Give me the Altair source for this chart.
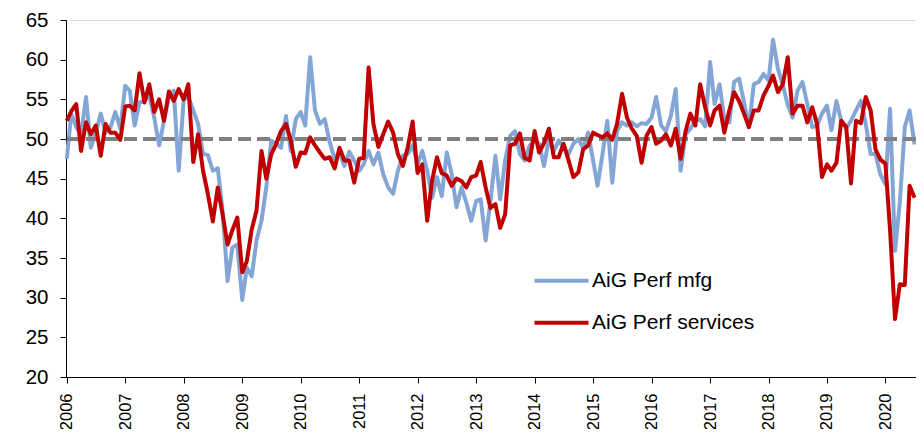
import altair as alt
import pandas as pd

# Monthly readings, Feb 2006 .. Aug 2020 (175 months)
start_month = "2006-02-01"
n_months = 175

mfg = [
    47.5, 53.2, 51.5, 50.5, 55.3, 48.9, 50.8, 53.2, 50.8, 51.5, 53.4, 51.3,
    56.7, 56.1, 51.7, 54.6, 54.8, 55.5, 52.7, 49.2, 52.3, 55.3, 56.1, 46.0,
    55.0, 55.3, 53.6, 51.9, 48.1, 48.0, 46.0, 46.3, 41.0, 32.1, 36.3, 36.7,
    29.7, 33.8, 32.7, 37.2, 39.7, 43.9, 49.8, 49.4, 48.9, 52.9, 48.5, 52.5,
    53.4, 51.7, 60.3, 53.6, 51.9, 52.5, 49.6, 47.5, 48.3, 46.6, 48.4, 47.3,
    46.0, 46.8, 48.5, 46.8, 48.3, 45.6, 43.9, 43.1, 46.0, 47.9, 48.1, 49.2,
    46.8, 48.5, 46.0, 42.6, 45.2, 42.8, 48.3, 45.6, 41.4, 43.9, 42.0, 39.7,
    42.2, 42.4, 37.2, 42.2, 47.9, 42.4, 47.3, 50.4, 51.0, 48.1, 47.3, 49.2,
    49.8, 49.4, 46.6, 50.0, 48.5, 49.8, 48.9, 48.1, 49.4, 50.0, 48.9, 50.8,
    47.3, 44.1, 48.1, 52.3, 44.5, 51.0, 52.1, 51.7, 52.1, 51.6, 52.0, 51.9,
    52.7, 55.3, 51.7, 51.0, 52.9, 56.3, 46.0, 50.6, 51.3, 52.3, 52.5, 51.6,
    59.7, 54.4, 56.9, 52.5, 52.1, 57.2, 57.6, 54.6, 51.5, 56.9, 57.2, 58.2,
    57.4, 62.5, 58.8, 56.8, 54.3, 52.7, 56.1, 57.2, 54.4, 51.5, 51.7, 53.2,
    54.2, 51.1, 54.8, 52.3, 51.3, 52.3, 53.6, 54.8, 51.9, 48.1, 48.1, 45.5,
    44.3, 53.8, 35.9, 42.0, 51.5, 53.6, 49.3,
]

services = [
    52.3, 53.5, 54.4, 48.5, 52.1, 50.6, 51.7, 47.9, 51.9, 50.8, 50.8, 49.9,
    54.1, 54.2, 53.6, 58.3, 54.6, 56.9, 53.4, 55.0, 52.3, 56.0, 54.8, 56.3,
    55.0, 56.9, 47.1, 50.6, 46.0, 43.1, 39.6, 43.9, 40.5, 36.7, 38.5, 40.1,
    33.2, 34.6, 38.6, 41.0, 48.5, 45.0, 48.1, 49.4, 51.0, 51.9, 49.8, 46.5,
    48.3, 48.2, 50.2, 49.2, 48.3, 47.5, 47.7, 46.3, 48.9, 47.3, 47.3, 44.5,
    47.5, 47.6, 59.0, 51.9, 49.0, 50.6, 52.2, 50.8, 48.1, 46.6, 48.9, 52.2,
    45.7, 46.8, 39.7, 44.7, 47.7, 45.7, 45.4, 44.1, 45.0, 44.7, 43.9, 45.2,
    45.4, 47.1, 43.9, 41.3, 41.8, 38.8, 40.5, 49.2, 49.4, 50.7, 47.6, 47.3,
    51.0, 48.3, 49.5, 51.3, 47.7, 47.7, 49.4, 47.3, 45.2, 45.8, 48.7, 49.2,
    50.8, 50.5, 50.2, 50.7, 49.9, 51.9, 55.7, 52.7, 51.3, 50.4, 47.0, 50.4,
    51.5, 49.4, 49.8, 50.6, 49.2, 51.3, 47.5, 51.0, 53.2, 51.7, 56.9, 54.0,
    51.7, 53.6, 54.2, 50.8, 53.6, 55.9, 54.8, 53.2, 51.5, 53.6, 53.6, 55.5,
    56.7, 58.0, 55.9, 56.9, 60.3, 53.2, 54.2, 54.2, 52.1, 54.0, 51.9, 45.2,
    46.8, 46.0, 47.0, 52.3, 51.5, 44.4, 52.3, 52.0, 55.3, 53.6, 48.7, 47.4,
    46.9, 38.5, 27.3, 31.7, 31.6, 44.1, 42.6,
]

series_names = ["AiG Perf mfg", "AiG Perf services"]
series_colors = ["#84A6D6", "#C00000"]
y_ticks = [20, 25, 30, 35, 40, 45, 50, 55, 60, 65]
tick_years = list(range(2006, 2021))
reference_level = 50

months = pd.date_range(start_month, periods=n_months, freq="MS")
df = pd.concat([
    pd.DataFrame({"date": months, "value": mfg, "series": series_names[0]}),
    pd.DataFrame({"date": months, "value": services, "series": series_names[1]}),
], ignore_index=True)
df_ref = pd.DataFrame({"value": [reference_level]})

FONT = "Liberation Sans"

x_enc = alt.X(
    "date:T",
    scale=alt.Scale(domain=[alt.DateTime(year=2006, month=1, date=27),
                            alt.DateTime(year=2020, month=8, date=10)]),
    axis=alt.Axis(
        title=None, format="%Y", labelAngle=-90, labelFontSize=16.5,
        values=[alt.DateTime(year=y, month=2, date=1) for y in tick_years],
        tickSize=6, labelPadding=10, labelFlush=False, labelOverlap=False,
        grid=False, domainColor="black", tickColor="black",
        labelColor="black", labelFont=FONT,
    ),
)
y_axis = alt.Axis(
    title=None, values=y_ticks, tickCount=10, tickSize=6, labelPadding=12,
    labelFontSize=20.5, labelFlush=False, labelOverlap=False,
    labelBound=False, grid=False,
    domainColor="black", tickColor="black", labelColor="black",
    labelFont=FONT,
)
y_scale = alt.Scale(domain=[20, 65], nice=False, zero=False)
y_enc = alt.Y("value:Q", scale=y_scale, axis=y_axis)

color_enc = alt.Color(
    "series:N",
    scale=alt.Scale(domain=series_names, range=series_colors),
    legend=alt.Legend(
        orient="none", legendX=485.0, legendY=250.2, title=None,
        symbolType="M-5,0H5", symbolSize=116.64, symbolStrokeWidth=4,
        labelFontSize=21, labelOffset=20, labelLimit=400, rowPadding=20,
        padding=0, labelColor="black", labelFont=FONT,
    ),
)

base = alt.Chart(df)
blue = base.transform_filter(alt.datum.series == series_names[0]).mark_line(
    strokeWidth=4, strokeJoin="round"
).encode(x=x_enc, y=y_enc, color=color_enc)
red = base.transform_filter(alt.datum.series == series_names[1]).mark_line(
    strokeWidth=4, strokeJoin="round"
).encode(x=x_enc, y=y_enc, color=color_enc)
rule = alt.Chart(df_ref).mark_rule(
    color="#808080", strokeWidth=4, strokeDash=[13, 6]
).encode(y=y_enc)

chart = alt.layer(blue, rule, red).properties(
    width=850, height=357,
    autosize=alt.AutoSizeParams(type="none"),
    padding={"left": 58, "top": 12, "right": 0, "bottom": 52},
).configure_view(stroke=None).configure(font=FONT)

chart.save("out.html", embed_options={"renderer": "svg", "actions": False})
